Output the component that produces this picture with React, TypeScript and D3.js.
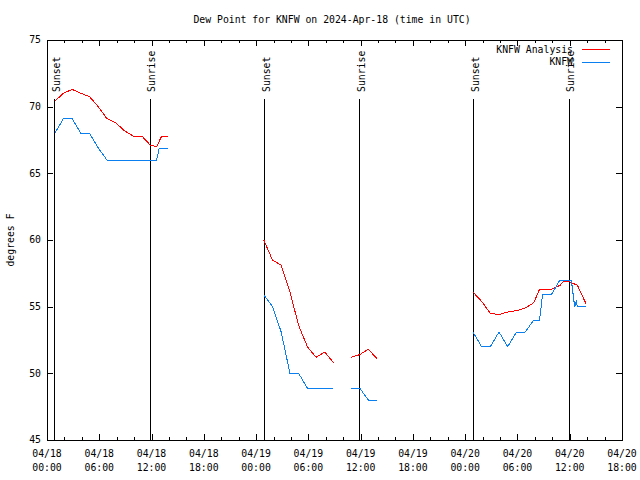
import React, { useRef, useEffect } from 'react';
import * as d3 from 'd3';

// KNFW Analysis (red) – null breaks the line
const analysisTimes = [
    "2024-04-18 00:53", "2024-04-18 01:53", "2024-04-18 02:53", "2024-04-18 03:53", "2024-04-18 04:53",
    "2024-04-18 05:53", "2024-04-18 06:53", "2024-04-18 07:53", "2024-04-18 08:53", "2024-04-18 09:53",
    "2024-04-18 10:53", "2024-04-18 11:53", "2024-04-18 12:35", "2024-04-18 13:10", "2024-04-18 13:53",
    "2024-04-18 18:00",
    "2024-04-19 00:53", "2024-04-19 01:53", "2024-04-19 02:53", "2024-04-19 03:53", "2024-04-19 04:53",
    "2024-04-19 05:53", "2024-04-19 06:53", "2024-04-19 07:53", "2024-04-19 08:53",
    "2024-04-19 09:53",
    "2024-04-19 10:53", "2024-04-19 11:53", "2024-04-19 12:53", "2024-04-19 13:53",
    "2024-04-19 18:00",
    "2024-04-20 00:53", "2024-04-20 01:53", "2024-04-20 02:53", "2024-04-20 03:53", "2024-04-20 04:53",
    "2024-04-20 05:53", "2024-04-20 06:53", "2024-04-20 07:53", "2024-04-20 08:32", "2024-04-20 08:53",
    "2024-04-20 09:53", "2024-04-20 10:53", "2024-04-20 11:20", "2024-04-20 11:53", "2024-04-20 12:53",
    "2024-04-20 13:53"
];
const analysisValues = [
    70.4, 71.0, 71.3, 71.0, 70.75,
    70.0, 69.1, 68.8, 68.2, 67.8,
    67.8, 67.1, 67.0, 67.8, 67.8,
    null,
    60.0, 58.5, 58.1, 56.1, 53.6,
    52.0, 51.2, 51.6, 50.8,
    null,
    51.2, 51.4, 51.8, 51.1,
    null,
    56.1, 55.4, 54.5, 54.4, 54.6,
    54.7, 54.9, 55.3, 56.3, 56.3,
    56.3, 56.6, 56.9, 56.9, 56.6,
    55.2
];

// KNFW observed (blue)
const obsTimes = [
    "2024-04-18 00:53", "2024-04-18 01:53", "2024-04-18 02:53", "2024-04-18 03:53", "2024-04-18 04:53",
    "2024-04-18 05:53", "2024-04-18 06:53", "2024-04-18 07:53", "2024-04-18 08:53", "2024-04-18 09:53",
    "2024-04-18 10:53", "2024-04-18 11:53", "2024-04-18 12:35", "2024-04-18 12:53", "2024-04-18 13:53",
    "2024-04-18 18:00",
    "2024-04-19 00:53", "2024-04-19 01:53", "2024-04-19 02:53", "2024-04-19 03:53", "2024-04-19 04:53",
    "2024-04-19 05:53", "2024-04-19 06:53", "2024-04-19 07:53", "2024-04-19 08:53",
    "2024-04-19 09:53",
    "2024-04-19 10:53", "2024-04-19 11:53", "2024-04-19 12:53", "2024-04-19 13:53",
    "2024-04-19 18:00",
    "2024-04-20 00:53", "2024-04-20 01:53", "2024-04-20 02:53", "2024-04-20 03:53", "2024-04-20 04:53",
    "2024-04-20 05:53", "2024-04-20 06:53", "2024-04-20 07:53", "2024-04-20 08:32", "2024-04-20 08:53",
    "2024-04-20 09:53", "2024-04-20 10:53", "2024-04-20 11:53", "2024-04-20 12:11", "2024-04-20 12:34",
    "2024-04-20 12:45", "2024-04-20 12:53", "2024-04-20 13:53"
];
const obsValues = [
    68.0, 69.1, 69.1, 68.0, 68.0,
    66.9, 66.0, 66.0, 66.0, 66.0,
    66.0, 66.0, 66.0, 66.9, 66.9,
    null,
    55.9, 55.0, 53.1, 50.0, 50.0,
    48.9, 48.9, 48.9, 48.9,
    null,
    48.9, 48.9, 48.0, 48.0,
    null,
    53.1, 52.0, 52.0, 53.1, 52.0,
    53.1, 53.1, 54.0, 54.0, 55.9,
    55.9, 57.0, 57.0, 57.0, 55.0,
    55.4, 55.0, 55.0
];

const sunEvents = [
    { time: "2024-04-18 00:51", label: "Sunset" },
    { time: "2024-04-18 11:49", label: "Sunrise" },
    { time: "2024-04-19 00:56", label: "Sunset" },
    { time: "2024-04-19 11:51", label: "Sunrise" },
    { time: "2024-04-20 00:56", label: "Sunset" },
    { time: "2024-04-20 11:53", label: "Sunrise" }
];

const xDomain = ["2024-04-18 00:00", "2024-04-20 18:00"];
const yTicks = [45, 50, 55, 60, 65, 70, 75];

const FONT = "'DejaVu Sans Mono', monospace";

const DewPointChart = () => {
    const svgRef = useRef(null);

    useEffect(() => {
        const W = 640, H = 480;
        const margin = { top: 40, right: 18, bottom: 40, left: 47 };
        const parse = d3.utcParse("%Y-%m-%d %H:%M");

        const svg = d3.select(svgRef.current)
            .attr('width', W)
            .attr('height', H);

        svg.append("rect").attr("width", W).attr("height", H).attr("fill", "#fff");

        const x = d3.scaleUtc()
            .domain(xDomain.map(parse))
            .range([margin.left, W - margin.right]);
        const y = d3.scaleLinear()
            .domain([45, 75])
            .range([H - margin.bottom, margin.top]);

        const g = svg.append("g")
            .style("font-family", FONT)
            .style("font-size", "9.8px")
            .attr("shape-rendering", "crispEdges");

        // ticks (inward, mirrored)
        const major = d3.utcHour.every(6);
        const minor = d3.utcHour.every(2);
        const tickAxis = (axis) => (sel) => {
            sel.call(axis);
            sel.select(".domain").remove();
            sel.selectAll("text").remove();
            sel.selectAll("line").attr("stroke", "#000");
        };
        g.append("g").attr("transform", `translate(0,${H - margin.bottom})`)
            .call(tickAxis(d3.axisBottom(x).ticks(minor).tickSize(-3)));
        g.append("g").attr("transform", `translate(0,${H - margin.bottom})`)
            .call(tickAxis(d3.axisBottom(x).ticks(major).tickSize(-6)));
        g.append("g").attr("transform", `translate(0,${margin.top})`)
            .call(tickAxis(d3.axisTop(x).ticks(minor).tickSize(-3)));
        g.append("g").attr("transform", `translate(0,${margin.top})`)
            .call(tickAxis(d3.axisTop(x).ticks(major).tickSize(-6)));
        g.append("g").attr("transform", `translate(${margin.left},0)`)
            .call(tickAxis(d3.axisLeft(y).tickValues(yTicks).tickSize(-6)));
        g.append("g").attr("transform", `translate(${W - margin.right},0)`)
            .call(tickAxis(d3.axisRight(y).tickValues(yTicks).tickSize(-6)));

        // frame
        g.append("rect")
            .attr("x", margin.left)
            .attr("y", margin.top)
            .attr("width", W - margin.left - margin.right)
            .attr("height", H - margin.top - margin.bottom)
            .attr("fill", "none")
            .attr("stroke", "#000");

        // y labels
        g.selectAll(".ylab")
            .data(yTicks)
            .enter().append("text")
            .attr("x", margin.left - 6)
            .attr("y", d => y(d))
            .attr("dy", "0.35em")
            .attr("text-anchor", "end")
            .text(d => d);

        // x labels (two lines)
        const xt = x.ticks(major);
        const fmtDate = d3.utcFormat("%m/%d");
        const fmtTime = d3.utcFormat("%H:%M");
        const xl = g.selectAll(".xlab")
            .data(xt)
            .enter().append("text")
            .attr("text-anchor", "middle");
        xl.append("tspan").attr("x", d => x(d)).attr("y", 457).text(d => fmtDate(d));
        xl.append("tspan").attr("x", d => x(d)).attr("y", 471).text(d => fmtTime(d));

        // sunrise / sunset markers
        const ev = g.selectAll(".sun").data(sunEvents).enter().append("g");
        ev.append("line")
            .attr("x1", d => Math.round(x(parse(d.time))) + 0.5)
            .attr("x2", d => Math.round(x(parse(d.time))) + 0.5)
            .attr("y1", H - margin.bottom)
            .attr("y2", 99)
            .attr("stroke", "#000");
        ev.append("text")
            .attr("transform", d => `translate(${x(parse(d.time)) + 5.5},92) rotate(-90)`)
            .attr("text-anchor", "start")
            .text(d => d.label);

        // series lines
        const line = d3.line()
            .defined(d => d.v != null)
            .x(d => x(d.t))
            .y(d => y(d.v));

        const analysis = analysisTimes.map((t, i) => ({ t: parse(t), v: analysisValues[i] }));
        const obs = obsTimes.map((t, i) => ({ t: parse(t), v: obsValues[i] }));

        g.append("path")
            .datum(analysis)
            .attr("fill", "none")
            .attr("stroke", "#ff0000")
            .attr("stroke-width", 1)
            .attr("d", line);

        g.append("path")
            .datum(obs)
            .attr("fill", "none")
            .attr("stroke", "#0a80f0")
            .attr("stroke-width", 1)
            .attr("d", line);

        // legend
        const legendData = [
            { color: "#ff0000", text: "KNFW Analysis" },
            { color: "#0a80f0", text: "KNFW" }
        ];
        const legend = g.selectAll(".legend")
            .data(legendData)
            .enter().append("g")
            .attr("transform", (d, i) => `translate(0, ${49.5 + i * 12.5})`);
        legend.append("text")
            .attr("x", 573)
            .attr("dy", "0.35em")
            .attr("text-anchor", "end")
            .text(d => d.text);
        legend.append("line")
            .attr("x1", 582)
            .attr("x2", 610)
            .attr("stroke", d => d.color);

        // title and axis label
        g.append("text")
            .attr("x", 332)
            .attr("y", 23)
            .attr("text-anchor", "middle")
            .text("Dew Point for KNFW on 2024-Apr-18 (time in UTC)");

        g.append("text")
            .attr("transform", "translate(14,240) rotate(-90)")
            .attr("text-anchor", "middle")
            .text("degrees F");

        return () => {
            d3.select(svgRef.current).selectAll('*').remove();
        };
    }, []);

    return (
        <svg ref={svgRef} style={{ position: "absolute", left: 0, top: 0, display: "block" }}></svg>
    );
};

export default function App() {
    return <DewPointChart />;
}
